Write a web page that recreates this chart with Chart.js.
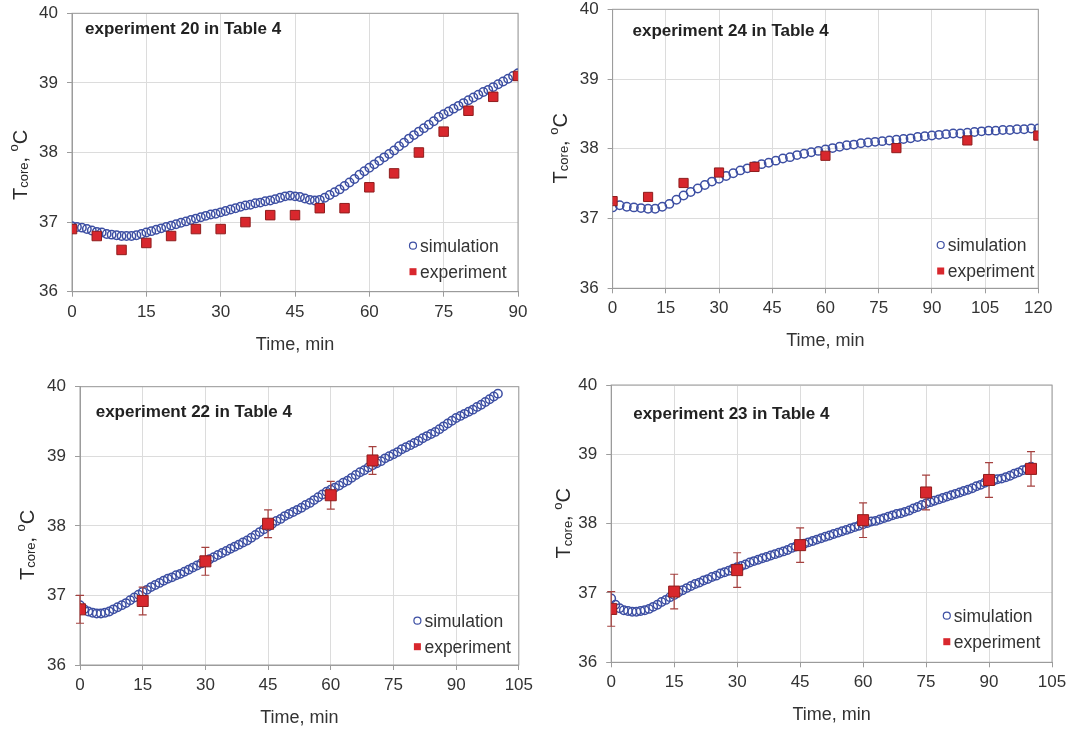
<!DOCTYPE html>
<html>
<head>
<meta charset="utf-8">
<script src="https://cdn.jsdelivr.net/npm/chart.js@4.4.0/dist/chart.umd.min.js"></script>
<style>
  html, body { margin: 0; padding: 0; background: #fff; }
  #wrap { position: relative; width: 1077px; height: 735px; overflow: hidden; }
  .panel { position: absolute; }
</style>
</head>
<body>
<div id="wrap">
  <div class="panel" style="left:0;top:0"><canvas id="c1" width="540" height="365"></canvas></div>
  <div class="panel" style="left:540px;top:0"><canvas id="c2" width="537" height="365"></canvas></div>
  <div class="panel" style="left:0;top:365px"><canvas id="c3" width="540" height="370"></canvas></div>
  <div class="panel" style="left:540px;top:365px"><canvas id="c4" width="537" height="370"></canvas></div>
</div>
<script>
// Simulation time points (min)
var simTime90 = [0,1,2,3,4,5,6,7,8,9,10,11,12,13,14,15,16,17,18,19,20,21,22,23,24,25,26,27,28,29,30,
  31,32,33,34,35,36,37,38,39,40,41,42,43,44,45,46,47,48,49,50,51,52,53,54,55,56,57,58,59,60,
  61,62,63,64,65,66,67,68,69,70,71,72,73,74,75,76,77,78,79,80,81,82,83,84,85,86,87,88,89,90];
var simTime120 = [0,2,4,6,8,10,12,14,16,18,20,22,24,26,28,30,32,34,36,38,40,42,44,46,48,50,52,54,56,58,60,
  62,64,66,68,70,72,74,76,78,80,82,84,86,88,90,92,94,96,98,100,102,104,106,108,110,112,114,116,118,120];
var simTime100 = [0,1,2,3,4,5,6,7,8,9,10,11,12,13,14,15,16,17,18,19,20,21,22,23,24,25,26,27,28,29,30,
  31,32,33,34,35,36,37,38,39,40,41,42,43,44,45,46,47,48,49,50,51,52,53,54,55,56,57,58,59,60,
  61,62,63,64,65,66,67,68,69,70,71,72,73,74,75,76,77,78,79,80,81,82,83,84,85,86,87,88,89,90,
  91,92,93,94,95,96,97,98,99,100];

// experiment 20
var sim20 = [36.94,36.93,36.92,36.90,36.88,36.86,36.85,36.83,36.82,36.81,36.80,36.80,36.80,36.81,36.83,
  36.85,36.87,36.89,36.91,36.93,36.95,36.97,36.99,37.01,37.03,37.05,37.07,37.09,37.11,37.12,
  37.14,37.16,37.18,37.20,37.22,37.24,37.25,37.27,37.28,37.30,37.31,37.33,37.35,37.37,37.38,
  37.37,37.36,37.34,37.32,37.31,37.32,37.35,37.39,37.43,37.47,37.52,37.57,37.62,37.68,37.73,
  37.78,37.83,37.88,37.93,37.98,38.03,38.09,38.14,38.20,38.25,38.30,38.35,38.40,38.45,38.51,
  38.55,38.59,38.63,38.67,38.71,38.75,38.79,38.83,38.87,38.90,38.94,38.98,39.02,39.06,39.10,39.14];
var exp20T = [0,5,10,15,20,25,30,35,40,45,50,55,60,65,70,75,80,85,90];
var exp20Y = [36.9,36.8,36.6,36.7,36.8,36.9,36.9,37.0,37.1,37.1,37.2,37.2,37.5,37.7,38.0,38.3,38.6,38.8,39.1];

// experiment 24
var sim24 = [37.16,37.19,37.17,37.16,37.15,37.14,37.14,37.17,37.21,37.27,37.33,37.38,37.43,37.48,37.53,
  37.57,37.61,37.65,37.69,37.72,37.75,37.78,37.80,37.83,37.86,37.88,37.91,37.93,37.95,37.97,
  37.99,38.01,38.03,38.05,38.06,38.08,38.09,38.10,38.11,38.12,38.13,38.14,38.15,38.17,38.18,
  38.19,38.20,38.21,38.22,38.22,38.23,38.24,38.25,38.26,38.26,38.27,38.27,38.28,38.28,38.29,38.29];
var exp24T = [0,10,20,30,40,60,80,100,120];
var exp24Y = [37.25,37.31,37.51,37.66,37.74,37.90,38.01,38.12,38.19];

// experiment 22
var sim22 = [36.86,36.80,36.77,36.75,36.74,36.74,36.75,36.77,36.80,36.83,36.86,36.89,36.93,36.97,37.01,
  37.05,37.08,37.12,37.15,37.18,37.21,37.24,37.26,37.29,37.31,37.34,37.37,37.40,37.43,37.46,
  37.49,37.52,37.55,37.58,37.61,37.64,37.67,37.70,37.73,37.76,37.79,37.83,37.87,37.91,37.95,
  37.99,38.03,38.07,38.10,38.14,38.17,38.20,38.23,38.26,38.30,38.33,38.37,38.41,38.45,38.49,
  38.52,38.55,38.58,38.62,38.65,38.69,38.73,38.77,38.80,38.84,38.87,38.90,38.93,38.97,39.00,
  39.03,39.06,39.10,39.13,39.16,39.19,39.22,39.26,39.29,39.32,39.35,39.39,39.43,39.47,39.51,
  39.55,39.58,39.61,39.64,39.67,39.71,39.74,39.78,39.82,39.86,39.90];
var exp22T = [0,15,30,45,60,70];
var exp22Y = [36.80,36.92,37.49,38.03,38.44,38.94];
var exp22Err = [0.2,0.2,0.2,0.2,0.2,0.2];

// experiment 23
var sim23 = [36.92,36.83,36.78,36.75,36.74,36.73,36.73,36.74,36.75,36.77,36.80,36.83,36.87,36.90,36.94,
  36.97,37.01,37.04,37.07,37.10,37.13,37.15,37.18,37.20,37.23,37.25,37.28,37.30,37.32,37.35,
  37.37,37.39,37.41,37.44,37.46,37.48,37.50,37.52,37.54,37.56,37.58,37.60,37.62,37.65,37.67,
  37.69,37.71,37.73,37.75,37.77,37.79,37.81,37.83,37.85,37.87,37.89,37.91,37.93,37.95,37.97,
  37.99,38.01,38.03,38.04,38.06,38.08,38.10,38.12,38.14,38.15,38.17,38.19,38.22,38.24,38.27,
  38.29,38.31,38.33,38.35,38.37,38.39,38.41,38.43,38.45,38.47,38.49,38.51,38.54,38.56,38.59,
  38.61,38.62,38.64,38.65,38.67,38.69,38.72,38.74,38.77,38.79,38.82];
var exp23T = [0,15,30,45,60,75,90,100];
var exp23Y = [36.77,37.02,37.33,37.69,38.05,38.45,38.63,38.79];
var exp23Err = [0.25,0.25,0.25,0.25,0.25,0.25,0.25,0.25];

var tituloX = 'Time, min';
var nombresSerie = ['simulation', 'experiment'];

var FUENTE = "'Liberation Sans', Arial, sans-serif";
var AZUL = '#3d4fa3';
var ROJO = '#d8272d';
var BORDE_ROJO = '#8f1d1d';
var EJE = '#9c9c9c';

function puntos(xs, ys) {
  var out = [];
  for (var i = 0; i < xs.length; i++) out.push({ x: xs[i], y: ys[i] });
  return out;
}

// Dibuja el marco, barras de error, anotacion, leyenda y titulo del eje Y
var extras = {
  id: 'extras',
  beforeDatasetsDraw: function(chart) {
    var a = chart.chartArea, c = chart.ctx;
    c.save();
    c.strokeStyle = EJE;
    c.lineWidth = 1;
    c.strokeRect(a.left, a.top, a.right - a.left, a.bottom - a.top);
    c.restore();
  },
  beforeDatasetDraw: function(chart, args) {
    var p = chart.options.plugins.extras;
    if (args.index !== 0 || !p.err) return;
    var c = chart.ctx, xs = chart.scales.x, ys = chart.scales.y;
    c.save();
    c.strokeStyle = '#a5413f';
    c.lineWidth = 1.2;
    for (var i = 0; i < p.expT.length; i++) {
      var x = xs.getPixelForValue(p.expT[i]);
      var y1 = ys.getPixelForValue(p.expY[i] + p.err[i]);
      var y2 = ys.getPixelForValue(p.expY[i] - p.err[i]);
      c.beginPath();
      c.moveTo(x, y1); c.lineTo(x, y2);
      c.moveTo(x - 4, y1); c.lineTo(x + 4, y1);
      c.moveTo(x - 4, y2); c.lineTo(x + 4, y2);
      c.stroke();
    }
    c.restore();
  },
  afterDraw: function(chart) {
    var p = chart.options.plugins.extras;
    var c = chart.ctx;
    c.save();
    // anotacion
    c.fillStyle = '#222';
    c.font = 'bold 17px ' + FUENTE;
    c.textBaseline = 'middle';
    c.textAlign = 'left';
    c.fillText(p.nota, p.notaX, p.notaY);
    // leyenda
    c.font = '17.5px ' + FUENTE;
    c.fillStyle = '#333';
    c.strokeStyle = AZUL;
    c.lineWidth = 1.2;
    c.beginPath();
    c.arc(p.legX, p.legY, 3.5, 0, Math.PI * 2);
    c.stroke();
    c.fillText(nombresSerie[0], p.legX + 7, p.legY + 1);
    c.fillStyle = ROJO;
    c.fillRect(p.legX - 3.5, p.legY + 26 - 3.5, 7, 7);
    c.fillStyle = '#333';
    c.fillText(nombresSerie[1], p.legX + 7, p.legY + 27);
    // titulo del eje Y: T_core, °C
    c.translate(p.ytX, p.ytY);
    c.rotate(-Math.PI / 2);
    c.textBaseline = 'alphabetic';
    c.fillStyle = '#2a2a2a';
    var px = 0;
    c.font = '20px ' + FUENTE;
    c.fillText('T', px, 0); px += c.measureText('T').width;
    c.font = '13px ' + FUENTE;
    c.fillText('core', px, 1.5); px += c.measureText('core').width;
    c.font = '20px ' + FUENTE;
    c.fillText(', ', px, 0); px += c.measureText(', ').width;
    c.font = '13px ' + FUENTE;
    c.fillText('o', px, -8.5); px += c.measureText('o').width;
    c.font = '20px ' + FUENTE;
    c.fillText('C', px, 0);
    c.restore();
  }
};

function dibujarPanel(id, p) {
  var canvas = document.getElementById(id);
  var ctx = canvas.getContext('2d');
  var W = canvas.width, H = canvas.height;
  var altoX = 66;
  return new Chart(ctx, {
    type: 'scatter',
    data: {
      datasets: [{
        label: nombresSerie[1],
        data: puntos(p.expT, p.expY),
        pointStyle: 'rect',
        pointRadius: p.sq,
        backgroundColor: ROJO,
        borderColor: BORDE_ROJO,
        borderWidth: 1
      }, {
        label: nombresSerie[0],
        data: puntos(p.simT, p.simY),
        pointStyle: 'circle',
        pointRadius: 4.2,
        backgroundColor: 'rgba(0,0,0,0)',
        borderColor: AZUL,
        borderWidth: 1.5
      }]
    },
    options: {
      responsive: false,
      animation: false,
      events: [],
      layout: { padding: { left: 0, top: p.T, right: W - p.R, bottom: H - p.B - altoX } },
      plugins: {
        legend: { display: false },
        tooltip: { enabled: false },
        extras: p
      },
      scales: {
        x: {
          type: 'linear', min: 0, max: p.xMax,
          ticks: { stepSize: 15, color: '#333', padding: 7, font: { family: FUENTE, size: 17, lineHeight: 1 } },
          grid: { color: '#dcdcdc', tickColor: EJE, tickLength: 5 },
          border: { color: EJE },
          title: { display: true, text: tituloX, color: '#333', font: { family: FUENTE, size: 18 }, padding: { top: 0, bottom: 2 } },
          afterFit: function(s) { s.height = altoX; }
        },
        y: {
          min: 36, max: 40,
          ticks: { stepSize: 1, color: '#333', padding: 9, font: { family: FUENTE, size: 17, lineHeight: 1 } },
          grid: { color: '#dcdcdc', tickColor: EJE, tickLength: 5 },
          border: { color: EJE },
          afterFit: function(s) { s.width = p.L; s.paddingTop = 0; s.paddingBottom = 0; }
        }
      }
    },
    plugins: [extras]
  });
}

dibujarPanel('c1', {
  simT: simTime90, simY: sim20, expT: exp20T, expY: exp20Y, err: null, xMax: 90, sq: 6.7,
  L: 72, R: 518, T: 13.3, B: 291.7,
  nota: 'experiment 20 in Table 4', notaX: 85, notaY: 29.3,
  legX: 413, legY: 245.7, ytX: 26.7, ytY: 200
});
dibujarPanel('c2', {
  simT: simTime120, simY: sim24, expT: exp24T, expY: exp24Y, err: null, xMax: 120, sq: 6.5,
  L: 72.6, R: 498.3, T: 9.3, B: 288.3,
  nota: 'experiment 24 in Table 4', notaX: 92.5, notaY: 31,
  legX: 400.7, legY: 245, ytX: 26.6, ytY: 183.4
});
dibujarPanel('c3', {
  simT: simTime100, simY: sim22, expT: exp22T, expY: exp22Y, err: exp22Err, xMax: 105, sq: 7.8,
  L: 80, R: 521.7, T: 21.7, B: 300,
  nota: 'experiment 22 in Table 4', notaX: 95.7, notaY: 47.7,
  legX: 417.4, legY: 255.7, ytX: 33.7, ytY: 215
});
dibujarPanel('c4', {
  simT: simTime100, simY: sim23, expT: exp23T, expY: exp23Y, err: exp23Err, xMax: 105, sq: 7.8,
  L: 71.2, R: 512, T: 20, B: 297.3,
  nota: 'experiment 23 in Table 4', notaX: 93.2, notaY: 49,
  legX: 406.8, legY: 250.7, ytX: 30, ytY: 193.4
});
</script>
</body>
</html>
